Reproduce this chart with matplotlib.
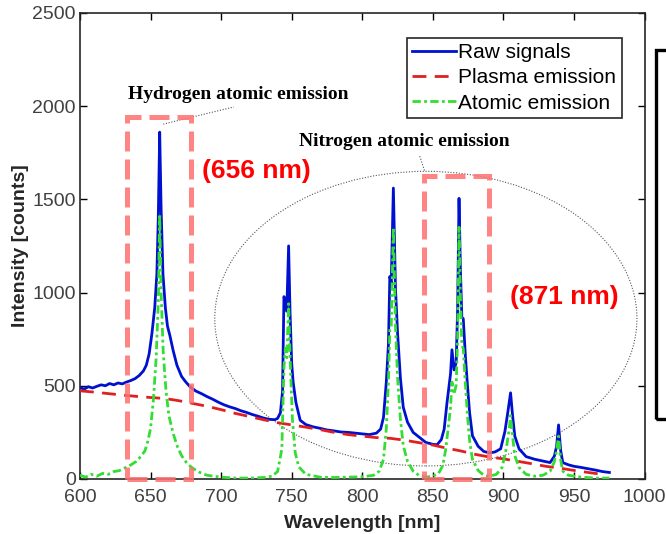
import numpy as np
import matplotlib.pyplot as plt
from matplotlib.patches import Rectangle, Ellipse

# raw signal (wavelength, counts)
raw_wl = [600, 603, 606, 609, 612, 615, 618, 621, 624, 627, 630, 633, 636, 639, 642, 645, 647, 649,
          651, 653, 654.5, 655.5, 656.5, 657.5, 658.8, 660.5, 662, 663.7, 666, 668.7, 672, 675, 678,
          682, 686, 690, 694, 698, 702, 706, 710, 714, 718, 722, 726, 730, 734, 738, 740, 742, 743.5,
          744.5, 745.5, 746.5, 747.8, 748.8, 750, 751, 753, 756, 760, 765, 770, 775, 780, 785, 790,
          795, 800, 805, 810, 813, 815, 817, 818.5, 819.5, 820.5, 822, 823.5, 825, 827, 829, 832, 836,
          840, 845, 850, 853, 856, 858, 860, 861.5, 862.5, 863.5, 865, 866.5, 867.5, 868.5, 869.5,
          870.5, 871.5, 873, 874.5, 876, 878, 882, 886, 890, 894, 898, 901, 903, 905, 906.5, 908,
          911, 916, 922, 928, 933, 936, 937.6, 939, 940.5, 942, 946, 950, 955, 960, 965, 970, 975]
raw_val = [490, 482, 495, 488, 497, 505, 500, 512, 505, 515, 510, 520, 528, 538, 555, 580, 610, 670,
           780, 920, 1100, 1400, 1860, 1450, 1100, 920, 820, 770, 690, 610, 550, 520, 495,
           472, 458, 442, 428, 412, 398, 387, 378, 366, 357, 346, 337, 327, 320, 318, 325, 355, 470,
           978, 960, 900, 1250, 900, 620, 520, 410, 315, 292, 280, 272, 263, 258, 252, 250,
           246, 242, 238, 246, 268, 330, 520, 720, 1086, 1050, 1560, 1020, 780, 540, 385, 305, 250,
           226, 196, 186, 184, 212, 268, 410, 505, 565, 693, 585, 625, 910, 1505, 1120,
           866, 860, 660, 500, 355, 232, 176, 148, 140, 145, 162, 255, 355, 462, 335, 230,
           162, 120, 106, 96, 88, 122, 175, 290, 152, 88, 76, 68, 62, 55, 48, 40, 35]

# plasma emission (continuum)
pl_wl = [600, 610, 620, 630, 640, 650, 660, 670, 680, 690, 700, 710, 720, 730, 740, 750, 760, 770,
         780, 790, 800, 810, 820, 830, 840, 850, 860, 870, 880, 890, 900, 910, 920, 930, 940, 950,
         960, 968]
pl_val = [473, 466, 458, 450, 443, 437, 432, 420, 405, 390, 372, 352, 335, 318, 302, 290, 278, 265,
          250, 238, 230, 222, 218, 208, 195, 182, 165, 150, 132, 118, 108, 95, 82, 68, 58, 46,
          35, 27]

# atomic emission
at_wl = [600, 604, 608, 612, 616, 620, 624, 628, 632, 636, 640, 643, 646, 648, 650, 652, 654, 655.5,
         656.5, 657.5, 659, 661, 663, 666, 669, 672, 676, 680, 685, 690, 700, 710, 720, 730, 736,
         740, 743, 744.5, 745.5, 746.5, 747.8, 749, 750.5, 752.5, 755, 760, 770, 780, 790, 800, 808,
         812, 815, 817, 818.5, 819.5, 820.5, 822, 823.5, 825, 827, 829, 832, 836, 840, 845, 850, 854,
         857, 859, 861, 862.5, 863.5, 865, 866.5, 867.5, 868.5, 869.5, 870.5, 871.5, 873, 874.5, 876,
         878, 882, 886, 890, 895, 899, 902, 904, 905, 906.5, 908, 911, 916, 922, 928, 933, 936,
         937.6, 939, 940.5, 942, 946, 955, 965, 975]
at_val = [20, 10, 25, 15, 30, 25, 40, 45, 60, 75, 95, 120, 150, 200, 270, 420, 650, 950,
          1420, 1000, 680, 470, 340, 245, 175, 125, 82, 57, 35, 20, 10, 5, 5, 8, 15,
          40, 160, 600, 700, 650, 940, 620, 320, 140, 65, 25, 10, 8, 10, 12, 20,
          42, 105, 270, 520, 800, 820, 1350, 820, 540, 320, 180, 95, 42, 20, 10, 15, 30,
          72, 155, 285, 385, 520, 455, 505, 760, 1350, 970, 720, 700, 510, 340, 205,
          105, 46, 20, 15, 25, 62, 165, 265, 340, 225, 125, 62, 25, 15, 20, 42, 92,
          152, 230, 102, 42, 20, 10, 5, 5]

plt.rcParams['font.family'] = ['Liberation Sans', 'DejaVu Sans']

fig = plt.figure(figsize=(6.66, 5.34), dpi=100)
ax = fig.add_axes([0.120, 0.103, 0.848, 0.873])

ax.plot(raw_wl, raw_val, color='#0010d0', lw=2.0, label='Raw signals', zorder=3)
ax.plot(pl_wl, pl_val, color='#e02020', lw=2.0, ls=(0, (5, 3)), label='Plasma emission', zorder=4)
ax.plot(at_wl, at_val, color='#33dd33', lw=2.0, ls=(0, (3, 1.2, 1, 1.2)), label='Atomic emission', zorder=5)

ax.set_xlim(600, 1000)
ax.set_ylim(0, 2500)
ax.set_xticks(np.arange(600, 1001, 50))
ax.set_yticks(np.arange(0, 2501, 500))
ax.tick_params(direction='in', top=True, right=True, length=5, width=1, labelsize=14,
               labelcolor='#404040')
ax.tick_params(axis='x', pad=7)
ax.tick_params(axis='y', pad=3)
for s in ax.spines.values():
    s.set_linewidth(1.2)
    s.set_color('#262626')
ax.set_xlabel('Wavelength [nm]', fontsize=14, fontweight='bold', color='#262626', labelpad=7)
ax.set_ylabel('Intensity [counts]', fontsize=14, fontweight='bold', color='#262626', labelpad=2)

leg = ax.legend(loc='upper right', bbox_to_anchor=(0.959, 0.946), borderaxespad=0, fontsize=15,
                fancybox=False, edgecolor='#262626', framealpha=1, handlelength=2.1,
                handletextpad=0.1, labelspacing=0.3, borderpad=0.25)
leg.get_frame().set_linewidth(1.2)

# highlight boxes
box_style = dict(fill=False, edgecolor='#ff7070', alpha=0.85, lw=3.6, ls=(0, (4, 1.6)), clip_on=False, zorder=6)
ax.add_patch(Rectangle((633, 0), 45.5, 1940, **box_style))
ax.add_patch(Rectangle((843.5, 0), 46, 1625, **box_style))

ax.add_patch(Ellipse((845, 860), 299, 1580, fill=False, edgecolor='#555555', lw=0.8, ls=(0, (1, 1.5)), zorder=2))

serif = ['Liberation Serif', 'DejaVu Serif']
ax.text(712, 2038, 'Hydrogen atomic emission', family=serif, fontweight='bold', fontsize=14,
        ha='center', va='baseline')
ax.text(830, 1785, 'Nitrogen atomic emission', family=serif, fontweight='bold', fontsize=14,
        ha='center', va='baseline')
ax.plot([659, 709], [1903, 1995], color='#555555', lw=0.8, ls=(0, (1, 1.5)))
ax.plot([840.7, 844.2], [1731, 1651], color='#555555', lw=0.8, ls=(0, (1, 1.5)))

ax.text(725, 1650, '(656 nm)', color='red', fontweight='bold', fontsize=19, ha='center', va='center')
ax.text(943, 978, '(871 nm)', color='red', fontweight='bold', fontsize=19, ha='center', va='center')

# edge of neighbouring panel
fig.patches.append(Rectangle((656 / 666, 1 - 419 / 534), 0.2, 369 / 534, transform=fig.transFigure,
                             fill=False, edgecolor='black', lw=2.4))

fig.savefig('out.png', dpi=100)
